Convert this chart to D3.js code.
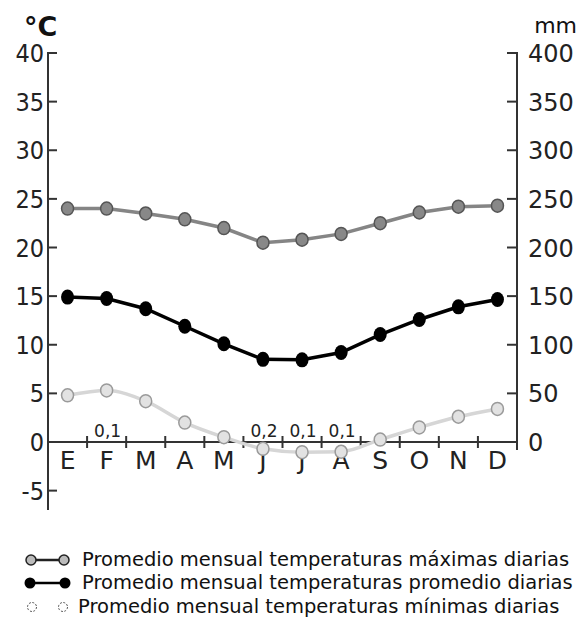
<!DOCTYPE html>
<html><head><meta charset="utf-8">
<script src="https://cdn.jsdelivr.net/npm/d3@7"></script>
<style>body{margin:0;background:#fff}svg{display:block}</style>
</head><body>
<script>
const months = ["E","F","M","A","M","J","J","A","S","O","N","D"];
const tMax  = [24.0,24.0,23.5,22.9,22.0,20.5,20.8,21.4,22.5,23.6,24.2,24.3];
const tMean = [14.9,14.75,13.7,11.9,10.1,8.5,8.45,9.2,11.05,12.6,13.9,14.65];
const tMin  = [4.8,5.3,4.2,2.0,0.5,-0.7,-1.05,-1.0,0.25,1.5,2.6,3.4];
const precip = [0,0.1,0,0,0,0.2,0.1,0.1,0,0,0,0];
const leftTicks = [-5,0,5,10,15,20,25,30,35,40];
const rightTicks = [0,50,100,150,200,250,300,350,400];
const legendLabels = ["Promedio mensual temperaturas máximas diarias","Promedio mensual temperaturas promedio diarias","Promedio mensual temperaturas mínimas diarias"];

const W=585,H=627;
const svg=d3.select("body").append("svg").attr("width",W).attr("height",H);
const x0=48,x1=517;
const idx=d3.range(12);
const x=d3.scaleBand().domain(idx).range([x0,x1]).padding(0);
const y=d3.scaleLinear().domain([0,40]).range([442,53]);
const yR=d3.scaleLinear().domain([0,400]).range([442,53]);
const cx=i=>x(i)+x.bandwidth()/2;
const axisCol="#333";

// left axis
svg.append("line").attr("x1",x0).attr("x2",x0).attr("y1",y(40)-1).attr("y2",510).attr("stroke",axisCol).attr("stroke-width",2);
leftTicks.forEach(t=>{
  svg.append("line").attr("x1",x0).attr("x2",x0+9).attr("y1",y(t)).attr("y2",y(t)).attr("stroke",axisCol).attr("stroke-width",2);
  svg.append("text").attr("x",44).attr("y",y(t)+9).attr("text-anchor","end")
    .attr("font-family","DejaVu Sans Condensed, DejaVu Sans").attr("font-size",25).attr("fill","#222").text(t);
});
// right axis
svg.append("line").attr("x1",x1).attr("x2",x1).attr("y1",yR(400)-1).attr("y2",450).attr("stroke",axisCol).attr("stroke-width",2);
rightTicks.forEach(t=>{
  svg.append("line").attr("x1",x1-10).attr("x2",x1).attr("y1",yR(t)).attr("y2",yR(t)).attr("stroke",axisCol).attr("stroke-width",2);
  svg.append("text").attr("x",528).attr("y",yR(t)+9).attr("text-anchor","start")
    .attr("font-family","DejaVu Sans").attr("font-size",24).attr("fill","#222").text(t);
});
// units
svg.append("text").attr("x",24).attr("y",36).attr("font-family","DejaVu Sans").attr("font-weight","bold").attr("font-size",27).attr("fill","#111").text("°C");
svg.append("text").attr("x",577).attr("y",33).attr("text-anchor","end").attr("font-family","DejaVu Sans").attr("font-size",22).attr("fill","#111").text("mm");

// x axis
svg.append("line").attr("x1",x0).attr("x2",x1).attr("y1",y(0)).attr("y2",y(0)).attr("stroke",axisCol).attr("stroke-width",2);
d3.range(1,12).forEach(i=>{
  svg.append("line").attr("x1",x(i)).attr("x2",x(i)).attr("y1",y(0)-6).attr("y2",y(0)+6).attr("stroke",axisCol).attr("stroke-width",2);
});
months.forEach((m,i)=>{
  svg.append("text").attr("x",cx(i)).attr("y",469).attr("text-anchor","middle")
    .attr("font-family","DejaVu Sans").attr("font-size",25).attr("fill","#222").text(m);
});
// precipitation bars (tiny) and labels
precip.forEach((p,i)=>{
  if(p>0){
    svg.append("rect").attr("x",cx(i)-15).attr("width",30).attr("y",yR(p)).attr("height",yR(0)-yR(p)).attr("fill","#333");
    svg.append("text").attr("x",cx(i)+1).attr("y",437).attr("text-anchor","middle")
      .attr("font-family","DejaVu Sans").attr("font-size",17).attr("fill","#222").text(String(p).replace(".",","));
  }
});

// min series (smooth light)
const lineMin=d3.line().x((d,i)=>cx(i)).y(d=>y(d)).curve(d3.curveMonotoneX);
svg.append("path").datum(tMin).attr("d",lineMin).attr("fill","none").attr("stroke","#d6d6d6").attr("stroke-width",3.5);
svg.selectAll(".pmin").data(tMin).enter().append("ellipse").attr("cx",(d,i)=>cx(i)).attr("cy",d=>y(d)).attr("rx",6).attr("ry",6.5)
  .attr("fill","#e2e2e2").attr("stroke","#9a9a9a").attr("stroke-width",1.5);

// max series
const lineS=d3.line().x((d,i)=>cx(i)).y(d=>y(d));
svg.append("path").datum(tMax).attr("d",lineS).attr("fill","none").attr("stroke","#858585").attr("stroke-width",3.5);
svg.selectAll(".pmax").data(tMax).enter().append("ellipse").attr("cx",(d,i)=>cx(i)).attr("cy",d=>y(d)).attr("rx",6).attr("ry",6.5)
  .attr("fill","#888").attr("stroke","#555").attr("stroke-width",1.5);

// mean series
svg.append("path").datum(tMean).attr("d",lineS).attr("fill","none").attr("stroke","#000").attr("stroke-width",3.5);
svg.selectAll(".pmean").data(tMean).enter().append("ellipse").attr("cx",(d,i)=>cx(i)).attr("cy",d=>y(d)).attr("rx",6.5).attr("ry",7.5)
  .attr("fill","#000");

// legend
const ly=[560,583,607];
// max
svg.append("line").attr("x1",31).attr("x2",64).attr("y1",ly[0]).attr("y2",ly[0]).attr("stroke","#222").attr("stroke-width",2.5);
[31,64].forEach(xx=>svg.append("circle").attr("cx",xx).attr("cy",ly[0]).attr("r",5).attr("fill","#bbb").attr("stroke","#222").attr("stroke-width",1.5));
// mean
svg.append("line").attr("x1",30).attr("x2",65).attr("y1",ly[1]).attr("y2",ly[1]).attr("stroke","#000").attr("stroke-width",2.5);
[30,65].forEach(xx=>svg.append("circle").attr("cx",xx).attr("cy",ly[1]).attr("r",5.5).attr("fill","#000"));
// min
[32,63].forEach(xx=>svg.append("circle").attr("cx",xx).attr("cy",ly[2]).attr("r",4.5).attr("fill","#fff").attr("stroke","#555").attr("stroke-width",1).attr("stroke-dasharray","2,1.5"));
legendLabels.forEach((t,i)=>{
  svg.append("text").attr("x",i==2?78:82).attr("y",ly[i]+6).attr("font-family","DejaVu Sans").attr("font-size",19.5).attr("fill","#111").text(t);
});
</script>
</body></html>
